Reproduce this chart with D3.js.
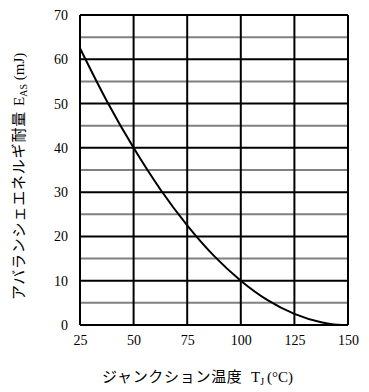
<!DOCTYPE html>
<html><head><meta charset="utf-8">
<script src="https://cdn.jsdelivr.net/npm/d3@7"></script>
<style>body{margin:0;background:#fff}svg{display:block}</style>
</head><body>
<svg id="c" width="369" height="392"></svg>
<script>
const xTicks = [25, 50, 75, 100, 125, 150];
const yTicks = [0, 10, 20, 30, 40, 50, 60, 70];
const yMinor = [5, 15, 25, 35, 45, 55, 65];
const tempC = [25, 37.5, 50, 62.5, 75, 87.5, 100, 112.5, 125, 137.5, 145, 150];
const energy = [62.5, 50.6, 40, 30.6, 22.5, 15.6, 10, 5.6, 2.5, 0.6, 0.05, 0];

const svg = d3.select("#c");
const L = 80, R = 348, T = 15, B = 325;
const x = d3.scaleLinear().domain([25, 150]).range([L, R]);
const y = d3.scaleLinear().domain([0, 70]).range([B, T]);
const serif = "'Liberation Serif', 'Times New Roman', serif";
const jp = "'Noto Sans CJK JP', sans-serif";

svg.append("g").selectAll("line").data(yMinor).join("line")
  .attr("x1", L).attr("x2", R).attr("y1", d => y(d)).attr("y2", d => y(d))
  .attr("stroke", "#808080").attr("stroke-width", 2);
svg.append("g").selectAll("line").data(yTicks).join("line")
  .attr("x1", L).attr("x2", R).attr("y1", d => y(d)).attr("y2", d => y(d))
  .attr("stroke", "#000").attr("stroke-width", 2);
svg.append("g").selectAll("line").data(xTicks).join("line")
  .attr("x1", d => x(d)).attr("x2", d => x(d)).attr("y1", T).attr("y2", B)
  .attr("stroke", "#000").attr("stroke-width", 2);

const xAxis = svg.append("g").attr("transform", `translate(0,${B})`)
  .call(d3.axisBottom(x).tickValues(xTicks).tickSize(0).tickPadding(10));
const yAxis = svg.append("g").attr("transform", `translate(${L},0)`)
  .call(d3.axisLeft(y).tickValues(yTicks).tickSize(0).tickPadding(12));
[xAxis, yAxis].forEach(g => {
  g.select(".domain").remove();
  g.selectAll("text").attr("font-family", serif).attr("font-size", 14).attr("fill", "#000");
});

const line = d3.line().x((d, i) => x(tempC[i])).y(d => y(d)).curve(d3.curveMonotoneX);
svg.append("path").datum(energy).attr("d", line)
  .attr("fill", "none").attr("stroke", "#000").attr("stroke-width", 2);

// x axis title
const xl = svg.append("text").attr("x", 102).attr("y", 382).attr("text-anchor", "start")
  .attr("fill", "#000");
xl.append("tspan").attr("font-family", jp).attr("font-size", 15).attr("letter-spacing", 0.7)
  .text("ジャンクション温度");
xl.append("tspan").attr("x", 251).attr("font-family", serif).attr("font-size", 15).text("T");
xl.append("tspan").attr("font-family", serif).attr("font-size", 10).attr("dy", 3).text("J");
xl.append("tspan").attr("font-family", serif).attr("font-size", 15).attr("dy", -3).attr("dx", 3).text("(°C)");

// y axis title
const yl = svg.append("text").attr("transform", "translate(24,300) rotate(-90)")
  .attr("text-anchor", "start").attr("fill", "#000");
yl.append("tspan").attr("font-family", jp).attr("font-size", 15).attr("letter-spacing", 0.8)
  .text("アバランシェエネルギ耐量");
yl.append("tspan").attr("x", 194).attr("font-family", serif).attr("font-size", 15).text("E");
yl.append("tspan").attr("font-family", serif).attr("font-size", 10).attr("dy", 3).text("AS");
yl.append("tspan").attr("font-family", serif).attr("font-size", 15).attr("dy", -3).text(" (mJ)");
</script>
</body></html>
